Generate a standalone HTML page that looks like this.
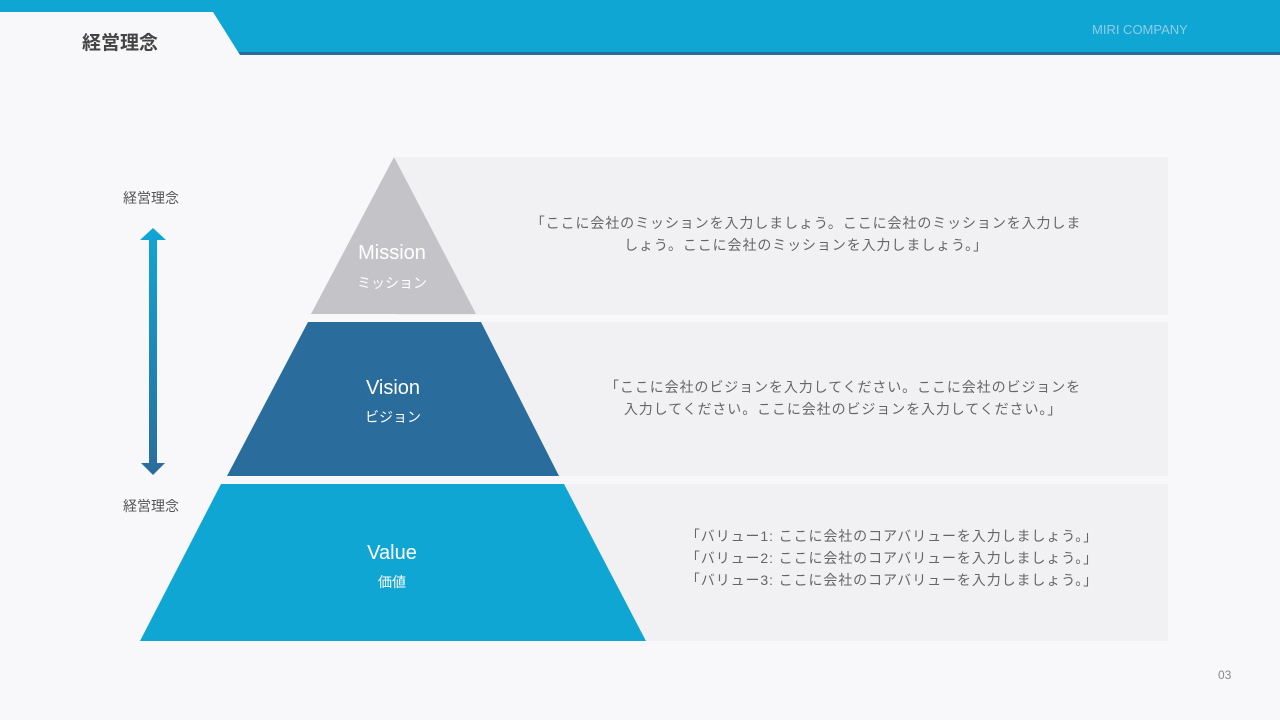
<!DOCTYPE html>
<html><head><meta charset="utf-8"><style>
body{margin:0;width:1280px;height:720px;background:#f8f8fa;position:relative;overflow:hidden;font-family:"Liberation Sans","Noto Sans CJK JP",sans-serif;}
.a{position:absolute}
.txt{position:absolute;color:#666;font-size:14px;line-height:22px;text-align:center;letter-spacing:0.9px}
</style></head><body>
<svg class="a" style="left:0;top:0" width="1280" height="720">
<defs><linearGradient id="g" x1="0" y1="0" x2="0" y2="1"><stop offset="0" stop-color="#10a6d4"/><stop offset="1" stop-color="#2a6c9c"/></linearGradient></defs>
<rect x="0" y="0" width="1280" height="55" fill="#2a6c9c"/>
<rect x="0" y="0" width="1280" height="52" fill="#10a6d4"/>
<polygon points="0,12 213,12 240,55 0,55" fill="#f8f8fa"/>
<rect x="395" y="157" width="773" height="158" fill="#f1f1f3"/>
<rect x="395" y="322" width="773" height="154" fill="#f1f1f3"/>
<rect x="395" y="484" width="773" height="157" fill="#f1f1f3"/>
<polygon points="394,157 476,314 311,314" fill="#c4c3c8"/>
<polygon points="308,322 481,322 559,476 227,476" fill="#2a6c9c"/>
<polygon points="221,484 564,484 646,641 140,641" fill="#10a6d4"/>
<polygon points="149,240 149,463 141,463 153,475 165,463 157,463 157,240 166,240 153,228 140,240" fill="url(#g)"/>
</svg>
<div class="a" style="left:82px;top:28px;font-size:19px;font-weight:bold;color:#444">経営理念</div>
<div class="a" style="left:1092px;top:22px;font-size:13px;color:#8fcde6">MIRI COMPANY</div>
<div class="a" style="left:1218px;top:668px;font-size:12px;color:#888">03</div>
<div class="a" style="left:123px;top:188px;font-size:14px;color:#555">経営理念</div>
<div class="a" style="left:123px;top:496px;font-size:14px;color:#555">経営理念</div>
<div class="a" style="left:332px;top:242px;width:120px;text-align:center;color:#fff;font-size:20px">Mission</div>
<div class="a" style="left:332px;top:273px;width:120px;text-align:center;color:#fff;font-size:14px">ミッション</div>
<div class="a" style="left:333px;top:377px;width:120px;text-align:center;color:#fff;font-size:20px">Vision</div>
<div class="a" style="left:333px;top:407px;width:120px;text-align:center;color:#fff;font-size:14px">ビジョン</div>
<div class="a" style="left:332px;top:542px;width:120px;text-align:center;color:#fff;font-size:20px">Value</div>
<div class="a" style="left:332px;top:572px;width:120px;text-align:center;color:#fff;font-size:14px">価値</div>
<div class="txt" style="left:506px;top:212px;width:600px">「ここに会社のミッションを入力しましょう。ここに会社のミッションを入力しま<br>しょう。ここに会社のミッションを入力しましょう。」</div>
<div class="txt" style="left:578px;top:376px;width:530px">「ここに会社のビジョンを入力してください。ここに会社のビジョンを<br>入力してください。ここに会社のビジョンを入力してください。」</div>
<div class="txt" style="left:642px;top:525px;width:500px">「バリュー1: ここに会社のコアバリューを入力しましょう。」<br>「バリュー2: ここに会社のコアバリューを入力しましょう。」<br>「バリュー3: ここに会社のコアバリューを入力しましょう。」</div>
</body></html>
